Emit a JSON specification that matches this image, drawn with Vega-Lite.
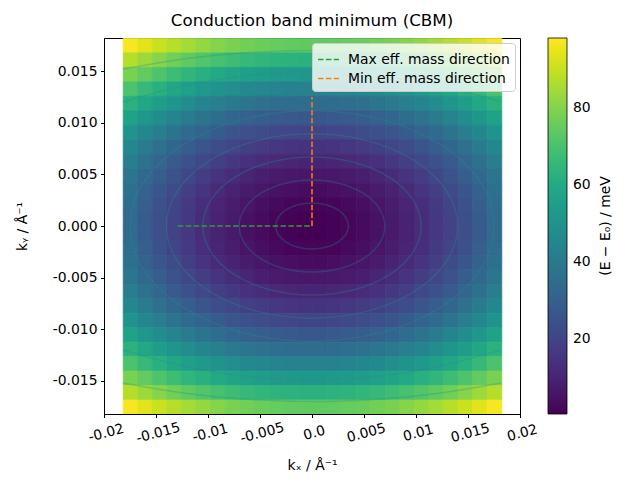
{
"$schema": "https://vega.github.io/schema/vega-lite/v6.json",
"width": 416, "height": 376,
"autosize": {"type": "none"},
"padding": {"left": 104, "top": 38, "right": 120, "bottom": 66},
"title": {"text": "Conduction band minimum (CBM)", "fontSize": 16.7, "fontWeight": "normal", "font": "DejaVu Sans", "color": "black", "offset": 8},
"config": {
 "view": {"stroke": "black", "strokeWidth": 1},
 "font": "DejaVu Sans",
 "axis": {"domainColor": "black", "tickColor": "black", "labelColor": "black", "titleColor": "black", "labelFontSize": 13.9, "titleFontSize": 13.9, "titleFontWeight": "normal", "grid": false, "tickSize": 3.5, "labelPadding": 3.5, "labelFlush": false, "labelOverlap": false, "labelBound": false},
 "legend": {"labelFontSize": 13.9, "titleFontSize": 13.9, "titleFontWeight": "normal", "labelColor": "black", "titleColor": "black"}
},
"resolve": {"scale": {"stroke": "independent"}, "legend": {"stroke": "independent"}},
"layer": [
{
"data": {"values": [
{"x":-0.0182,"y":0.0168,"e":97.3},{"x":-0.0168,"y":0.0168,"e":93.8},{"x":-0.0154,"y":0.0168,"e":90.5},{"x":-0.014,"y":0.0168,"e":87.6},{"x":-0.0126,"y":0.0168,"e":84.9},{"x":-0.0112,"y":0.0168,"e":82.6},{"x":-0.0098,"y":0.0168,"e":80.5},{"x":-0.0084,"y":0.0168,"e":78.7},{"x":-0.007,"y":0.0168,"e":77.2},{"x":-0.0056,"y":0.0168,"e":76.1},{"x":-0.0042,"y":0.0168,"e":75.2},{"x":-0.0028,"y":0.0168,"e":74.6},{"x":-0.0014,"y":0.0168,"e":74.3},{"x":0,"y":0.0168,"e":74.3},{"x":0.0014,"y":0.0168,"e":74.6},{"x":0.0028,"y":0.0168,"e":75.2},{"x":0.0042,"y":0.0168,"e":76.1},{"x":0.0056,"y":0.0168,"e":77.2},{"x":0.007,"y":0.0168,"e":78.7},{"x":0.0084,"y":0.0168,"e":80.5},{"x":0.0098,"y":0.0168,"e":82.6},{"x":0.0112,"y":0.0168,"e":84.9},{"x":0.0126,"y":0.0168,"e":87.6},{"x":0.014,"y":0.0168,"e":90.5},{"x":0.0154,"y":0.0168,"e":93.8},{"x":0.0168,"y":0.0168,"e":97.3},
{"x":-0.0182,"y":0.0154,"e":87.5},{"x":-0.0168,"y":0.0154,"e":83.7},{"x":-0.0154,"y":0.0154,"e":80.3},{"x":-0.014,"y":0.0154,"e":77.1},{"x":-0.0126,"y":0.0154,"e":74.3},{"x":-0.0112,"y":0.0154,"e":71.8},{"x":-0.0098,"y":0.0154,"e":69.6},{"x":-0.0084,"y":0.0154,"e":67.7},{"x":-0.007,"y":0.0154,"e":66.1},{"x":-0.0056,"y":0.0154,"e":64.8},{"x":-0.0042,"y":0.0154,"e":63.9},{"x":-0.0028,"y":0.0154,"e":63.3},{"x":-0.0014,"y":0.0154,"e":62.9},{"x":0,"y":0.0154,"e":62.9},{"x":0.0014,"y":0.0154,"e":63.3},{"x":0.0028,"y":0.0154,"e":63.9},{"x":0.0042,"y":0.0154,"e":64.8},{"x":0.0056,"y":0.0154,"e":66.1},{"x":0.007,"y":0.0154,"e":67.7},{"x":0.0084,"y":0.0154,"e":69.6},{"x":0.0098,"y":0.0154,"e":71.8},{"x":0.0112,"y":0.0154,"e":74.3},{"x":0.0126,"y":0.0154,"e":77.1},{"x":0.014,"y":0.0154,"e":80.3},{"x":0.0154,"y":0.0154,"e":83.7},{"x":0.0168,"y":0.0154,"e":87.5},
{"x":-0.0182,"y":0.014,"e":78.5},{"x":-0.0168,"y":0.014,"e":74.5},{"x":-0.0154,"y":0.014,"e":70.9},{"x":-0.014,"y":0.014,"e":67.5},{"x":-0.0126,"y":0.014,"e":64.5},{"x":-0.0112,"y":0.014,"e":61.9},{"x":-0.0098,"y":0.014,"e":59.5},{"x":-0.0084,"y":0.014,"e":57.5},{"x":-0.007,"y":0.014,"e":55.9},{"x":-0.0056,"y":0.014,"e":54.5},{"x":-0.0042,"y":0.014,"e":53.5},{"x":-0.0028,"y":0.014,"e":52.9},{"x":-0.0014,"y":0.014,"e":52.5},{"x":0,"y":0.014,"e":52.5},{"x":0.0014,"y":0.014,"e":52.9},{"x":0.0028,"y":0.014,"e":53.5},{"x":0.0042,"y":0.014,"e":54.5},{"x":0.0056,"y":0.014,"e":55.9},{"x":0.007,"y":0.014,"e":57.5},{"x":0.0084,"y":0.014,"e":59.5},{"x":0.0098,"y":0.014,"e":61.9},{"x":0.0112,"y":0.014,"e":64.5},{"x":0.0126,"y":0.014,"e":67.5},{"x":0.014,"y":0.014,"e":70.9},{"x":0.0154,"y":0.014,"e":74.5},{"x":0.0168,"y":0.014,"e":78.5},
{"x":-0.0182,"y":0.0126,"e":70.4},{"x":-0.0168,"y":0.0126,"e":66.2},{"x":-0.0154,"y":0.0126,"e":62.3},{"x":-0.014,"y":0.0126,"e":58.8},{"x":-0.0126,"y":0.0126,"e":55.7},{"x":-0.0112,"y":0.0126,"e":52.9},{"x":-0.0098,"y":0.0126,"e":50.4},{"x":-0.0084,"y":0.0126,"e":48.3},{"x":-0.007,"y":0.0126,"e":46.6},{"x":-0.0056,"y":0.0126,"e":45.2},{"x":-0.0042,"y":0.0126,"e":44.1},{"x":-0.0028,"y":0.0126,"e":43.4},{"x":-0.0014,"y":0.0126,"e":43.1},{"x":0,"y":0.0126,"e":43.1},{"x":0.0014,"y":0.0126,"e":43.4},{"x":0.0028,"y":0.0126,"e":44.1},{"x":0.0042,"y":0.0126,"e":45.2},{"x":0.0056,"y":0.0126,"e":46.6},{"x":0.007,"y":0.0126,"e":48.3},{"x":0.0084,"y":0.0126,"e":50.4},{"x":0.0098,"y":0.0126,"e":52.9},{"x":0.0112,"y":0.0126,"e":55.7},{"x":0.0126,"y":0.0126,"e":58.8},{"x":0.014,"y":0.0126,"e":62.3},{"x":0.0154,"y":0.0126,"e":66.2},{"x":0.0168,"y":0.0126,"e":70.4},
{"x":-0.0182,"y":0.0112,"e":63.0},{"x":-0.0168,"y":0.0112,"e":58.7},{"x":-0.0154,"y":0.0112,"e":54.6},{"x":-0.014,"y":0.0112,"e":51.0},{"x":-0.0126,"y":0.0112,"e":47.7},{"x":-0.0112,"y":0.0112,"e":44.8},{"x":-0.0098,"y":0.0112,"e":42.2},{"x":-0.0084,"y":0.0112,"e":40.0},{"x":-0.007,"y":0.0112,"e":38.2},{"x":-0.0056,"y":0.0112,"e":36.7},{"x":-0.0042,"y":0.0112,"e":35.6},{"x":-0.0028,"y":0.0112,"e":34.9},{"x":-0.0014,"y":0.0112,"e":34.5},{"x":0,"y":0.0112,"e":34.5},{"x":0.0014,"y":0.0112,"e":34.9},{"x":0.0028,"y":0.0112,"e":35.6},{"x":0.0042,"y":0.0112,"e":36.7},{"x":0.0056,"y":0.0112,"e":38.2},{"x":0.007,"y":0.0112,"e":40.0},{"x":0.0084,"y":0.0112,"e":42.2},{"x":0.0098,"y":0.0112,"e":44.8},{"x":0.0112,"y":0.0112,"e":47.7},{"x":0.0126,"y":0.0112,"e":51.0},{"x":0.014,"y":0.0112,"e":54.6},{"x":0.0154,"y":0.0112,"e":58.7},{"x":0.0168,"y":0.0112,"e":63.0},
{"x":-0.0182,"y":0.0098,"e":56.5},{"x":-0.0168,"y":0.0098,"e":52.0},{"x":-0.0154,"y":0.0098,"e":47.8},{"x":-0.014,"y":0.0098,"e":44.0},{"x":-0.0126,"y":0.0098,"e":40.6},{"x":-0.0112,"y":0.0098,"e":37.6},{"x":-0.0098,"y":0.0098,"e":34.9},{"x":-0.0084,"y":0.0098,"e":32.7},{"x":-0.007,"y":0.0098,"e":30.8},{"x":-0.0056,"y":0.0098,"e":29.2},{"x":-0.0042,"y":0.0098,"e":28.1},{"x":-0.0028,"y":0.0098,"e":27.4},{"x":-0.0014,"y":0.0098,"e":27.0},{"x":0,"y":0.0098,"e":27.0},{"x":0.0014,"y":0.0098,"e":27.4},{"x":0.0028,"y":0.0098,"e":28.1},{"x":0.0042,"y":0.0098,"e":29.2},{"x":0.0056,"y":0.0098,"e":30.8},{"x":0.007,"y":0.0098,"e":32.7},{"x":0.0084,"y":0.0098,"e":34.9},{"x":0.0098,"y":0.0098,"e":37.6},{"x":0.0112,"y":0.0098,"e":40.6},{"x":0.0126,"y":0.0098,"e":44.0},{"x":0.014,"y":0.0098,"e":47.8},{"x":0.0154,"y":0.0098,"e":52.0},{"x":0.0168,"y":0.0098,"e":56.5},
{"x":-0.0182,"y":0.0084,"e":50.8},{"x":-0.0168,"y":0.0084,"e":46.1},{"x":-0.0154,"y":0.0084,"e":41.8},{"x":-0.014,"y":0.0084,"e":37.9},{"x":-0.0126,"y":0.0084,"e":34.4},{"x":-0.0112,"y":0.0084,"e":31.3},{"x":-0.0098,"y":0.0084,"e":28.6},{"x":-0.0084,"y":0.0084,"e":26.2},{"x":-0.007,"y":0.0084,"e":24.3},{"x":-0.0056,"y":0.0084,"e":22.7},{"x":-0.0042,"y":0.0084,"e":21.5},{"x":-0.0028,"y":0.0084,"e":20.7},{"x":-0.0014,"y":0.0084,"e":20.3},{"x":0,"y":0.0084,"e":20.3},{"x":0.0014,"y":0.0084,"e":20.7},{"x":0.0028,"y":0.0084,"e":21.5},{"x":0.0042,"y":0.0084,"e":22.7},{"x":0.0056,"y":0.0084,"e":24.3},{"x":0.007,"y":0.0084,"e":26.2},{"x":0.0084,"y":0.0084,"e":28.6},{"x":0.0098,"y":0.0084,"e":31.3},{"x":0.0112,"y":0.0084,"e":34.4},{"x":0.0126,"y":0.0084,"e":37.9},{"x":0.014,"y":0.0084,"e":41.8},{"x":0.0154,"y":0.0084,"e":46.1},{"x":0.0168,"y":0.0084,"e":50.8},
{"x":-0.0182,"y":0.007,"e":45.9},{"x":-0.0168,"y":0.007,"e":41.1},{"x":-0.0154,"y":0.007,"e":36.7},{"x":-0.014,"y":0.007,"e":32.7},{"x":-0.0126,"y":0.007,"e":29.1},{"x":-0.0112,"y":0.007,"e":25.9},{"x":-0.0098,"y":0.007,"e":23.1},{"x":-0.0084,"y":0.007,"e":20.7},{"x":-0.007,"y":0.007,"e":18.7},{"x":-0.0056,"y":0.007,"e":17.1},{"x":-0.0042,"y":0.007,"e":15.9},{"x":-0.0028,"y":0.007,"e":15.1},{"x":-0.0014,"y":0.007,"e":14.7},{"x":0,"y":0.007,"e":14.7},{"x":0.0014,"y":0.007,"e":15.1},{"x":0.0028,"y":0.007,"e":15.9},{"x":0.0042,"y":0.007,"e":17.1},{"x":0.0056,"y":0.007,"e":18.7},{"x":0.007,"y":0.007,"e":20.7},{"x":0.0084,"y":0.007,"e":23.1},{"x":0.0098,"y":0.007,"e":25.9},{"x":0.0112,"y":0.007,"e":29.1},{"x":0.0126,"y":0.007,"e":32.7},{"x":0.014,"y":0.007,"e":36.7},{"x":0.0154,"y":0.007,"e":41.1},{"x":0.0168,"y":0.007,"e":45.9},
{"x":-0.0182,"y":0.0056,"e":41.8},{"x":-0.0168,"y":0.0056,"e":36.9},{"x":-0.0154,"y":0.0056,"e":32.4},{"x":-0.014,"y":0.0056,"e":28.3},{"x":-0.0126,"y":0.0056,"e":24.7},{"x":-0.0112,"y":0.0056,"e":21.4},{"x":-0.0098,"y":0.0056,"e":18.5},{"x":-0.0084,"y":0.0056,"e":16.1},{"x":-0.007,"y":0.0056,"e":14.0},{"x":-0.0056,"y":0.0056,"e":12.4},{"x":-0.0042,"y":0.0056,"e":11.2},{"x":-0.0028,"y":0.0056,"e":10.3},{"x":-0.0014,"y":0.0056,"e":9.9},{"x":0,"y":0.0056,"e":9.9},{"x":0.0014,"y":0.0056,"e":10.3},{"x":0.0028,"y":0.0056,"e":11.2},{"x":0.0042,"y":0.0056,"e":12.4},{"x":0.0056,"y":0.0056,"e":14.0},{"x":0.007,"y":0.0056,"e":16.1},{"x":0.0084,"y":0.0056,"e":18.5},{"x":0.0098,"y":0.0056,"e":21.4},{"x":0.0112,"y":0.0056,"e":24.7},{"x":0.0126,"y":0.0056,"e":28.3},{"x":0.014,"y":0.0056,"e":32.4},{"x":0.0154,"y":0.0056,"e":36.9},{"x":0.0168,"y":0.0056,"e":41.8},
{"x":-0.0182,"y":0.0042,"e":38.6},{"x":-0.0168,"y":0.0042,"e":33.6},{"x":-0.0154,"y":0.0042,"e":29.0},{"x":-0.014,"y":0.0042,"e":24.9},{"x":-0.0126,"y":0.0042,"e":21.1},{"x":-0.0112,"y":0.0042,"e":17.8},{"x":-0.0098,"y":0.0042,"e":14.9},{"x":-0.0084,"y":0.0042,"e":12.4},{"x":-0.007,"y":0.0042,"e":10.3},{"x":-0.0056,"y":0.0042,"e":8.6},{"x":-0.0042,"y":0.0042,"e":7.4},{"x":-0.0028,"y":0.0042,"e":6.6},{"x":-0.0014,"y":0.0042,"e":6.2},{"x":0,"y":0.0042,"e":6.2},{"x":0.0014,"y":0.0042,"e":6.6},{"x":0.0028,"y":0.0042,"e":7.4},{"x":0.0042,"y":0.0042,"e":8.6},{"x":0.0056,"y":0.0042,"e":10.3},{"x":0.007,"y":0.0042,"e":12.4},{"x":0.0084,"y":0.0042,"e":14.9},{"x":0.0098,"y":0.0042,"e":17.8},{"x":0.0112,"y":0.0042,"e":21.1},{"x":0.0126,"y":0.0042,"e":24.9},{"x":0.014,"y":0.0042,"e":29.0},{"x":0.0154,"y":0.0042,"e":33.6},{"x":0.0168,"y":0.0042,"e":38.6},
{"x":-0.0182,"y":0.0028,"e":36.1},{"x":-0.0168,"y":0.0028,"e":31.1},{"x":-0.0154,"y":0.0028,"e":26.5},{"x":-0.014,"y":0.0028,"e":22.2},{"x":-0.0126,"y":0.0028,"e":18.5},{"x":-0.0112,"y":0.0028,"e":15.1},{"x":-0.0098,"y":0.0028,"e":12.1},{"x":-0.0084,"y":0.0028,"e":9.6},{"x":-0.007,"y":0.0028,"e":7.5},{"x":-0.0056,"y":0.0028,"e":5.8},{"x":-0.0042,"y":0.0028,"e":4.6},{"x":-0.0028,"y":0.0028,"e":3.7},{"x":-0.0014,"y":0.0028,"e":3.3},{"x":0,"y":0.0028,"e":3.3},{"x":0.0014,"y":0.0028,"e":3.7},{"x":0.0028,"y":0.0028,"e":4.6},{"x":0.0042,"y":0.0028,"e":5.8},{"x":0.0056,"y":0.0028,"e":7.5},{"x":0.007,"y":0.0028,"e":9.6},{"x":0.0084,"y":0.0028,"e":12.1},{"x":0.0098,"y":0.0028,"e":15.1},{"x":0.0112,"y":0.0028,"e":18.5},{"x":0.0126,"y":0.0028,"e":22.2},{"x":0.014,"y":0.0028,"e":26.5},{"x":0.0154,"y":0.0028,"e":31.1},{"x":0.0168,"y":0.0028,"e":36.1},
{"x":-0.0182,"y":0.0014,"e":34.5},{"x":-0.0168,"y":0.0014,"e":29.4},{"x":-0.0154,"y":0.0014,"e":24.7},{"x":-0.014,"y":0.0014,"e":20.5},{"x":-0.0126,"y":0.0014,"e":16.7},{"x":-0.0112,"y":0.0014,"e":13.3},{"x":-0.0098,"y":0.0014,"e":10.3},{"x":-0.0084,"y":0.0014,"e":7.8},{"x":-0.007,"y":0.0014,"e":5.7},{"x":-0.0056,"y":0.0014,"e":4.0},{"x":-0.0042,"y":0.0014,"e":2.7},{"x":-0.0028,"y":0.0014,"e":1.8},{"x":-0.0014,"y":0.0014,"e":1.4},{"x":0,"y":0.0014,"e":1.4},{"x":0.0014,"y":0.0014,"e":1.8},{"x":0.0028,"y":0.0014,"e":2.7},{"x":0.0042,"y":0.0014,"e":4.0},{"x":0.0056,"y":0.0014,"e":5.7},{"x":0.007,"y":0.0014,"e":7.8},{"x":0.0084,"y":0.0014,"e":10.3},{"x":0.0098,"y":0.0014,"e":13.3},{"x":0.0112,"y":0.0014,"e":16.7},{"x":0.0126,"y":0.0014,"e":20.5},{"x":0.014,"y":0.0014,"e":24.7},{"x":0.0154,"y":0.0014,"e":29.4},{"x":0.0168,"y":0.0014,"e":34.5},
{"x":-0.0182,"y":0,"e":33.7},{"x":-0.0168,"y":0,"e":28.6},{"x":-0.0154,"y":0,"e":23.9},{"x":-0.014,"y":0,"e":19.6},{"x":-0.0126,"y":0,"e":15.8},{"x":-0.0112,"y":0,"e":12.4},{"x":-0.0098,"y":0,"e":9.4},{"x":-0.0084,"y":0,"e":6.9},{"x":-0.007,"y":0,"e":4.7},{"x":-0.0056,"y":0,"e":3.0},{"x":-0.0042,"y":0,"e":1.7},{"x":-0.0028,"y":0,"e":0.9},{"x":-0.0014,"y":0,"e":0.5},{"x":0,"y":0,"e":0.5},{"x":0.0014,"y":0,"e":0.9},{"x":0.0028,"y":0,"e":1.7},{"x":0.0042,"y":0,"e":3.0},{"x":0.0056,"y":0,"e":4.7},{"x":0.007,"y":0,"e":6.9},{"x":0.0084,"y":0,"e":9.4},{"x":0.0098,"y":0,"e":12.4},{"x":0.0112,"y":0,"e":15.8},{"x":0.0126,"y":0,"e":19.6},{"x":0.014,"y":0,"e":23.9},{"x":0.0154,"y":0,"e":28.6},{"x":0.0168,"y":0,"e":33.7},
{"x":-0.0182,"y":-0.0014,"e":33.7},{"x":-0.0168,"y":-0.0014,"e":28.6},{"x":-0.0154,"y":-0.0014,"e":23.9},{"x":-0.014,"y":-0.0014,"e":19.6},{"x":-0.0126,"y":-0.0014,"e":15.8},{"x":-0.0112,"y":-0.0014,"e":12.4},{"x":-0.0098,"y":-0.0014,"e":9.4},{"x":-0.0084,"y":-0.0014,"e":6.9},{"x":-0.007,"y":-0.0014,"e":4.7},{"x":-0.0056,"y":-0.0014,"e":3.0},{"x":-0.0042,"y":-0.0014,"e":1.7},{"x":-0.0028,"y":-0.0014,"e":0.9},{"x":-0.0014,"y":-0.0014,"e":0.5},{"x":0,"y":-0.0014,"e":0.5},{"x":0.0014,"y":-0.0014,"e":0.9},{"x":0.0028,"y":-0.0014,"e":1.7},{"x":0.0042,"y":-0.0014,"e":3.0},{"x":0.0056,"y":-0.0014,"e":4.7},{"x":0.007,"y":-0.0014,"e":6.9},{"x":0.0084,"y":-0.0014,"e":9.4},{"x":0.0098,"y":-0.0014,"e":12.4},{"x":0.0112,"y":-0.0014,"e":15.8},{"x":0.0126,"y":-0.0014,"e":19.6},{"x":0.014,"y":-0.0014,"e":23.9},{"x":0.0154,"y":-0.0014,"e":28.6},{"x":0.0168,"y":-0.0014,"e":33.7},
{"x":-0.0182,"y":-0.0028,"e":34.5},{"x":-0.0168,"y":-0.0028,"e":29.4},{"x":-0.0154,"y":-0.0028,"e":24.7},{"x":-0.014,"y":-0.0028,"e":20.5},{"x":-0.0126,"y":-0.0028,"e":16.7},{"x":-0.0112,"y":-0.0028,"e":13.3},{"x":-0.0098,"y":-0.0028,"e":10.3},{"x":-0.0084,"y":-0.0028,"e":7.8},{"x":-0.007,"y":-0.0028,"e":5.7},{"x":-0.0056,"y":-0.0028,"e":4.0},{"x":-0.0042,"y":-0.0028,"e":2.7},{"x":-0.0028,"y":-0.0028,"e":1.8},{"x":-0.0014,"y":-0.0028,"e":1.4},{"x":0,"y":-0.0028,"e":1.4},{"x":0.0014,"y":-0.0028,"e":1.8},{"x":0.0028,"y":-0.0028,"e":2.7},{"x":0.0042,"y":-0.0028,"e":4.0},{"x":0.0056,"y":-0.0028,"e":5.7},{"x":0.007,"y":-0.0028,"e":7.8},{"x":0.0084,"y":-0.0028,"e":10.3},{"x":0.0098,"y":-0.0028,"e":13.3},{"x":0.0112,"y":-0.0028,"e":16.7},{"x":0.0126,"y":-0.0028,"e":20.5},{"x":0.014,"y":-0.0028,"e":24.7},{"x":0.0154,"y":-0.0028,"e":29.4},{"x":0.0168,"y":-0.0028,"e":34.5},
{"x":-0.0182,"y":-0.0042,"e":36.1},{"x":-0.0168,"y":-0.0042,"e":31.1},{"x":-0.0154,"y":-0.0042,"e":26.5},{"x":-0.014,"y":-0.0042,"e":22.2},{"x":-0.0126,"y":-0.0042,"e":18.5},{"x":-0.0112,"y":-0.0042,"e":15.1},{"x":-0.0098,"y":-0.0042,"e":12.1},{"x":-0.0084,"y":-0.0042,"e":9.6},{"x":-0.007,"y":-0.0042,"e":7.5},{"x":-0.0056,"y":-0.0042,"e":5.8},{"x":-0.0042,"y":-0.0042,"e":4.6},{"x":-0.0028,"y":-0.0042,"e":3.7},{"x":-0.0014,"y":-0.0042,"e":3.3},{"x":0,"y":-0.0042,"e":3.3},{"x":0.0014,"y":-0.0042,"e":3.7},{"x":0.0028,"y":-0.0042,"e":4.6},{"x":0.0042,"y":-0.0042,"e":5.8},{"x":0.0056,"y":-0.0042,"e":7.5},{"x":0.007,"y":-0.0042,"e":9.6},{"x":0.0084,"y":-0.0042,"e":12.1},{"x":0.0098,"y":-0.0042,"e":15.1},{"x":0.0112,"y":-0.0042,"e":18.5},{"x":0.0126,"y":-0.0042,"e":22.2},{"x":0.014,"y":-0.0042,"e":26.5},{"x":0.0154,"y":-0.0042,"e":31.1},{"x":0.0168,"y":-0.0042,"e":36.1},
{"x":-0.0182,"y":-0.0056,"e":38.6},{"x":-0.0168,"y":-0.0056,"e":33.6},{"x":-0.0154,"y":-0.0056,"e":29.0},{"x":-0.014,"y":-0.0056,"e":24.9},{"x":-0.0126,"y":-0.0056,"e":21.1},{"x":-0.0112,"y":-0.0056,"e":17.8},{"x":-0.0098,"y":-0.0056,"e":14.9},{"x":-0.0084,"y":-0.0056,"e":12.4},{"x":-0.007,"y":-0.0056,"e":10.3},{"x":-0.0056,"y":-0.0056,"e":8.6},{"x":-0.0042,"y":-0.0056,"e":7.4},{"x":-0.0028,"y":-0.0056,"e":6.6},{"x":-0.0014,"y":-0.0056,"e":6.2},{"x":0,"y":-0.0056,"e":6.2},{"x":0.0014,"y":-0.0056,"e":6.6},{"x":0.0028,"y":-0.0056,"e":7.4},{"x":0.0042,"y":-0.0056,"e":8.6},{"x":0.0056,"y":-0.0056,"e":10.3},{"x":0.007,"y":-0.0056,"e":12.4},{"x":0.0084,"y":-0.0056,"e":14.9},{"x":0.0098,"y":-0.0056,"e":17.8},{"x":0.0112,"y":-0.0056,"e":21.1},{"x":0.0126,"y":-0.0056,"e":24.9},{"x":0.014,"y":-0.0056,"e":29.0},{"x":0.0154,"y":-0.0056,"e":33.6},{"x":0.0168,"y":-0.0056,"e":38.6},
{"x":-0.0182,"y":-0.007,"e":41.8},{"x":-0.0168,"y":-0.007,"e":36.9},{"x":-0.0154,"y":-0.007,"e":32.4},{"x":-0.014,"y":-0.007,"e":28.3},{"x":-0.0126,"y":-0.007,"e":24.7},{"x":-0.0112,"y":-0.007,"e":21.4},{"x":-0.0098,"y":-0.007,"e":18.5},{"x":-0.0084,"y":-0.007,"e":16.1},{"x":-0.007,"y":-0.007,"e":14.0},{"x":-0.0056,"y":-0.007,"e":12.4},{"x":-0.0042,"y":-0.007,"e":11.2},{"x":-0.0028,"y":-0.007,"e":10.3},{"x":-0.0014,"y":-0.007,"e":9.9},{"x":0,"y":-0.007,"e":9.9},{"x":0.0014,"y":-0.007,"e":10.3},{"x":0.0028,"y":-0.007,"e":11.2},{"x":0.0042,"y":-0.007,"e":12.4},{"x":0.0056,"y":-0.007,"e":14.0},{"x":0.007,"y":-0.007,"e":16.1},{"x":0.0084,"y":-0.007,"e":18.5},{"x":0.0098,"y":-0.007,"e":21.4},{"x":0.0112,"y":-0.007,"e":24.7},{"x":0.0126,"y":-0.007,"e":28.3},{"x":0.014,"y":-0.007,"e":32.4},{"x":0.0154,"y":-0.007,"e":36.9},{"x":0.0168,"y":-0.007,"e":41.8},
{"x":-0.0182,"y":-0.0084,"e":45.9},{"x":-0.0168,"y":-0.0084,"e":41.1},{"x":-0.0154,"y":-0.0084,"e":36.7},{"x":-0.014,"y":-0.0084,"e":32.7},{"x":-0.0126,"y":-0.0084,"e":29.1},{"x":-0.0112,"y":-0.0084,"e":25.9},{"x":-0.0098,"y":-0.0084,"e":23.1},{"x":-0.0084,"y":-0.0084,"e":20.7},{"x":-0.007,"y":-0.0084,"e":18.7},{"x":-0.0056,"y":-0.0084,"e":17.1},{"x":-0.0042,"y":-0.0084,"e":15.9},{"x":-0.0028,"y":-0.0084,"e":15.1},{"x":-0.0014,"y":-0.0084,"e":14.7},{"x":0,"y":-0.0084,"e":14.7},{"x":0.0014,"y":-0.0084,"e":15.1},{"x":0.0028,"y":-0.0084,"e":15.9},{"x":0.0042,"y":-0.0084,"e":17.1},{"x":0.0056,"y":-0.0084,"e":18.7},{"x":0.007,"y":-0.0084,"e":20.7},{"x":0.0084,"y":-0.0084,"e":23.1},{"x":0.0098,"y":-0.0084,"e":25.9},{"x":0.0112,"y":-0.0084,"e":29.1},{"x":0.0126,"y":-0.0084,"e":32.7},{"x":0.014,"y":-0.0084,"e":36.7},{"x":0.0154,"y":-0.0084,"e":41.1},{"x":0.0168,"y":-0.0084,"e":45.9},
{"x":-0.0182,"y":-0.0098,"e":50.8},{"x":-0.0168,"y":-0.0098,"e":46.1},{"x":-0.0154,"y":-0.0098,"e":41.8},{"x":-0.014,"y":-0.0098,"e":37.9},{"x":-0.0126,"y":-0.0098,"e":34.4},{"x":-0.0112,"y":-0.0098,"e":31.3},{"x":-0.0098,"y":-0.0098,"e":28.6},{"x":-0.0084,"y":-0.0098,"e":26.2},{"x":-0.007,"y":-0.0098,"e":24.3},{"x":-0.0056,"y":-0.0098,"e":22.7},{"x":-0.0042,"y":-0.0098,"e":21.5},{"x":-0.0028,"y":-0.0098,"e":20.7},{"x":-0.0014,"y":-0.0098,"e":20.3},{"x":0,"y":-0.0098,"e":20.3},{"x":0.0014,"y":-0.0098,"e":20.7},{"x":0.0028,"y":-0.0098,"e":21.5},{"x":0.0042,"y":-0.0098,"e":22.7},{"x":0.0056,"y":-0.0098,"e":24.3},{"x":0.007,"y":-0.0098,"e":26.2},{"x":0.0084,"y":-0.0098,"e":28.6},{"x":0.0098,"y":-0.0098,"e":31.3},{"x":0.0112,"y":-0.0098,"e":34.4},{"x":0.0126,"y":-0.0098,"e":37.9},{"x":0.014,"y":-0.0098,"e":41.8},{"x":0.0154,"y":-0.0098,"e":46.1},{"x":0.0168,"y":-0.0098,"e":50.8},
{"x":-0.0182,"y":-0.0112,"e":56.5},{"x":-0.0168,"y":-0.0112,"e":52.0},{"x":-0.0154,"y":-0.0112,"e":47.8},{"x":-0.014,"y":-0.0112,"e":44.0},{"x":-0.0126,"y":-0.0112,"e":40.6},{"x":-0.0112,"y":-0.0112,"e":37.6},{"x":-0.0098,"y":-0.0112,"e":34.9},{"x":-0.0084,"y":-0.0112,"e":32.7},{"x":-0.007,"y":-0.0112,"e":30.8},{"x":-0.0056,"y":-0.0112,"e":29.2},{"x":-0.0042,"y":-0.0112,"e":28.1},{"x":-0.0028,"y":-0.0112,"e":27.4},{"x":-0.0014,"y":-0.0112,"e":27.0},{"x":0,"y":-0.0112,"e":27.0},{"x":0.0014,"y":-0.0112,"e":27.4},{"x":0.0028,"y":-0.0112,"e":28.1},{"x":0.0042,"y":-0.0112,"e":29.2},{"x":0.0056,"y":-0.0112,"e":30.8},{"x":0.007,"y":-0.0112,"e":32.7},{"x":0.0084,"y":-0.0112,"e":34.9},{"x":0.0098,"y":-0.0112,"e":37.6},{"x":0.0112,"y":-0.0112,"e":40.6},{"x":0.0126,"y":-0.0112,"e":44.0},{"x":0.014,"y":-0.0112,"e":47.8},{"x":0.0154,"y":-0.0112,"e":52.0},{"x":0.0168,"y":-0.0112,"e":56.5},
{"x":-0.0182,"y":-0.0126,"e":63.0},{"x":-0.0168,"y":-0.0126,"e":58.7},{"x":-0.0154,"y":-0.0126,"e":54.6},{"x":-0.014,"y":-0.0126,"e":51.0},{"x":-0.0126,"y":-0.0126,"e":47.7},{"x":-0.0112,"y":-0.0126,"e":44.8},{"x":-0.0098,"y":-0.0126,"e":42.2},{"x":-0.0084,"y":-0.0126,"e":40.0},{"x":-0.007,"y":-0.0126,"e":38.2},{"x":-0.0056,"y":-0.0126,"e":36.7},{"x":-0.0042,"y":-0.0126,"e":35.6},{"x":-0.0028,"y":-0.0126,"e":34.9},{"x":-0.0014,"y":-0.0126,"e":34.5},{"x":0,"y":-0.0126,"e":34.5},{"x":0.0014,"y":-0.0126,"e":34.9},{"x":0.0028,"y":-0.0126,"e":35.6},{"x":0.0042,"y":-0.0126,"e":36.7},{"x":0.0056,"y":-0.0126,"e":38.2},{"x":0.007,"y":-0.0126,"e":40.0},{"x":0.0084,"y":-0.0126,"e":42.2},{"x":0.0098,"y":-0.0126,"e":44.8},{"x":0.0112,"y":-0.0126,"e":47.7},{"x":0.0126,"y":-0.0126,"e":51.0},{"x":0.014,"y":-0.0126,"e":54.6},{"x":0.0154,"y":-0.0126,"e":58.7},{"x":0.0168,"y":-0.0126,"e":63.0},
{"x":-0.0182,"y":-0.014,"e":70.4},{"x":-0.0168,"y":-0.014,"e":66.2},{"x":-0.0154,"y":-0.014,"e":62.3},{"x":-0.014,"y":-0.014,"e":58.8},{"x":-0.0126,"y":-0.014,"e":55.7},{"x":-0.0112,"y":-0.014,"e":52.9},{"x":-0.0098,"y":-0.014,"e":50.4},{"x":-0.0084,"y":-0.014,"e":48.3},{"x":-0.007,"y":-0.014,"e":46.6},{"x":-0.0056,"y":-0.014,"e":45.2},{"x":-0.0042,"y":-0.014,"e":44.1},{"x":-0.0028,"y":-0.014,"e":43.4},{"x":-0.0014,"y":-0.014,"e":43.1},{"x":0,"y":-0.014,"e":43.1},{"x":0.0014,"y":-0.014,"e":43.4},{"x":0.0028,"y":-0.014,"e":44.1},{"x":0.0042,"y":-0.014,"e":45.2},{"x":0.0056,"y":-0.014,"e":46.6},{"x":0.007,"y":-0.014,"e":48.3},{"x":0.0084,"y":-0.014,"e":50.4},{"x":0.0098,"y":-0.014,"e":52.9},{"x":0.0112,"y":-0.014,"e":55.7},{"x":0.0126,"y":-0.014,"e":58.8},{"x":0.014,"y":-0.014,"e":62.3},{"x":0.0154,"y":-0.014,"e":66.2},{"x":0.0168,"y":-0.014,"e":70.4},
{"x":-0.0182,"y":-0.0154,"e":78.5},{"x":-0.0168,"y":-0.0154,"e":74.5},{"x":-0.0154,"y":-0.0154,"e":70.9},{"x":-0.014,"y":-0.0154,"e":67.5},{"x":-0.0126,"y":-0.0154,"e":64.5},{"x":-0.0112,"y":-0.0154,"e":61.9},{"x":-0.0098,"y":-0.0154,"e":59.5},{"x":-0.0084,"y":-0.0154,"e":57.5},{"x":-0.007,"y":-0.0154,"e":55.9},{"x":-0.0056,"y":-0.0154,"e":54.5},{"x":-0.0042,"y":-0.0154,"e":53.5},{"x":-0.0028,"y":-0.0154,"e":52.9},{"x":-0.0014,"y":-0.0154,"e":52.5},{"x":0,"y":-0.0154,"e":52.5},{"x":0.0014,"y":-0.0154,"e":52.9},{"x":0.0028,"y":-0.0154,"e":53.5},{"x":0.0042,"y":-0.0154,"e":54.5},{"x":0.0056,"y":-0.0154,"e":55.9},{"x":0.007,"y":-0.0154,"e":57.5},{"x":0.0084,"y":-0.0154,"e":59.5},{"x":0.0098,"y":-0.0154,"e":61.9},{"x":0.0112,"y":-0.0154,"e":64.5},{"x":0.0126,"y":-0.0154,"e":67.5},{"x":0.014,"y":-0.0154,"e":70.9},{"x":0.0154,"y":-0.0154,"e":74.5},{"x":0.0168,"y":-0.0154,"e":78.5},
{"x":-0.0182,"y":-0.0168,"e":87.5},{"x":-0.0168,"y":-0.0168,"e":83.7},{"x":-0.0154,"y":-0.0168,"e":80.3},{"x":-0.014,"y":-0.0168,"e":77.1},{"x":-0.0126,"y":-0.0168,"e":74.3},{"x":-0.0112,"y":-0.0168,"e":71.8},{"x":-0.0098,"y":-0.0168,"e":69.6},{"x":-0.0084,"y":-0.0168,"e":67.7},{"x":-0.007,"y":-0.0168,"e":66.1},{"x":-0.0056,"y":-0.0168,"e":64.8},{"x":-0.0042,"y":-0.0168,"e":63.9},{"x":-0.0028,"y":-0.0168,"e":63.3},{"x":-0.0014,"y":-0.0168,"e":62.9},{"x":0,"y":-0.0168,"e":62.9},{"x":0.0014,"y":-0.0168,"e":63.3},{"x":0.0028,"y":-0.0168,"e":63.9},{"x":0.0042,"y":-0.0168,"e":64.8},{"x":0.0056,"y":-0.0168,"e":66.1},{"x":0.007,"y":-0.0168,"e":67.7},{"x":0.0084,"y":-0.0168,"e":69.6},{"x":0.0098,"y":-0.0168,"e":71.8},{"x":0.0112,"y":-0.0168,"e":74.3},{"x":0.0126,"y":-0.0168,"e":77.1},{"x":0.014,"y":-0.0168,"e":80.3},{"x":0.0154,"y":-0.0168,"e":83.7},{"x":0.0168,"y":-0.0168,"e":87.5},
{"x":-0.0182,"y":-0.0182,"e":97.3},{"x":-0.0168,"y":-0.0182,"e":93.8},{"x":-0.0154,"y":-0.0182,"e":90.5},{"x":-0.014,"y":-0.0182,"e":87.6},{"x":-0.0126,"y":-0.0182,"e":84.9},{"x":-0.0112,"y":-0.0182,"e":82.6},{"x":-0.0098,"y":-0.0182,"e":80.5},{"x":-0.0084,"y":-0.0182,"e":78.7},{"x":-0.007,"y":-0.0182,"e":77.2},{"x":-0.0056,"y":-0.0182,"e":76.1},{"x":-0.0042,"y":-0.0182,"e":75.2},{"x":-0.0028,"y":-0.0182,"e":74.6},{"x":-0.0014,"y":-0.0182,"e":74.3},{"x":0,"y":-0.0182,"e":74.3},{"x":0.0014,"y":-0.0182,"e":74.6},{"x":0.0028,"y":-0.0182,"e":75.2},{"x":0.0042,"y":-0.0182,"e":76.1},{"x":0.0056,"y":-0.0182,"e":77.2},{"x":0.007,"y":-0.0182,"e":78.7},{"x":0.0084,"y":-0.0182,"e":80.5},{"x":0.0098,"y":-0.0182,"e":82.6},{"x":0.0112,"y":-0.0182,"e":84.9},{"x":0.0126,"y":-0.0182,"e":87.6},{"x":0.014,"y":-0.0182,"e":90.5},{"x":0.0154,"y":-0.0182,"e":93.8},{"x":0.0168,"y":-0.0182,"e":97.3}
]},
"mark": {"type": "rect", "binSpacing": 0, "strokeWidth": 0.8},
"encoding": {
 "x": {"field": "x", "type": "quantitative", "bin": {"binned": true, "step": 0.0014},
  "scale": {"domain": [-0.02, 0.02], "nice": false, "zero": false},
  "axis": {"title": "kₓ / Å⁻¹", "values": [-0.02, -0.015, -0.01, -0.005, 0, 0.005, 0.01, 0.015, 0.02], "labelAngle": -15, "labelAlign": "center", "labelBaseline": "top", "labelPadding": 8.5, "titlePadding": 13,
   "labelExpr": "datum.value == 0 ? '0.0' : replace(format(datum.value, '~g'), '\u2212', '-')"}},
 "y": {"field": "y", "type": "quantitative", "bin": {"binned": true, "step": 0.0014},
  "scale": {"domain": [-0.0182, 0.0182], "nice": false, "zero": false},
  "axis": {"title": "kᵧ / Å⁻¹", "values": [-0.015, -0.01, -0.005, 0, 0.005, 0.01, 0.015], "titlePadding": 23,
   "labelExpr": "replace(format(datum.value, '.3f'), '\u2212', '-')"}},
 "fill": {"field": "e", "type": "quantitative",
  "scale": {"scheme": "viridis", "domain": [0.5, 98.2]},
  "legend": {"orient": "right", "offset": 28, "title": "(E − E₀) / meV", "titleOrient": "right", "gradientLength": 376, "gradientThickness": 19, "gradientStrokeColor": "black", "gradientStrokeWidth": 0.8, "values": [20, 40, 60, 80], "labelOffset": 6,
   "encode": {"title": {"update": {"angle": {"value": 270}, "dy": {"value": 17}}}}}},
 "stroke": {"field": "e", "type": "quantitative", "scale": {"scheme": "viridis", "domain": [0.5, 98.2]}, "legend": null}
}
},
{
"data": {"values": [
{"c":1,"o":0,"x":0.0035,"y":0},{"c":1,"o":1,"x":0.00323,"y":0.00085},{"c":1,"o":2,"x":0.00247,"y":0.00158},{"c":1,"o":3,"x":0.00134,"y":0.00206},{"c":1,"o":4,"x":0,"y":0.00223},{"c":1,"o":5,"x":-0.00134,"y":0.00206},{"c":1,"o":6,"x":-0.00247,"y":0.00158},{"c":1,"o":7,"x":-0.00323,"y":0.00085},{"c":1,"o":8,"x":-0.0035,"y":0},{"c":1,"o":9,"x":-0.00323,"y":-0.00085},{"c":1,"o":10,"x":-0.00247,"y":-0.00158},{"c":1,"o":11,"x":-0.00134,"y":-0.00206},{"c":1,"o":12,"x":0,"y":-0.00223},{"c":1,"o":13,"x":0.00134,"y":-0.00206},{"c":1,"o":14,"x":0.00247,"y":-0.00158},{"c":1,"o":15,"x":0.00323,"y":-0.00085},
{"c":2,"o":0,"x":0.007,"y":0},{"c":2,"o":1,"x":0.00647,"y":0.00171},{"c":2,"o":2,"x":0.00495,"y":0.00315},{"c":2,"o":3,"x":0.00268,"y":0.00412},{"c":2,"o":4,"x":0,"y":0.00446},{"c":2,"o":5,"x":-0.00268,"y":0.00412},{"c":2,"o":6,"x":-0.00495,"y":0.00315},{"c":2,"o":7,"x":-0.00647,"y":0.00171},{"c":2,"o":8,"x":-0.007,"y":0},{"c":2,"o":9,"x":-0.00647,"y":-0.00171},{"c":2,"o":10,"x":-0.00495,"y":-0.00315},{"c":2,"o":11,"x":-0.00268,"y":-0.00412},{"c":2,"o":12,"x":0,"y":-0.00446},{"c":2,"o":13,"x":0.00268,"y":-0.00412},{"c":2,"o":14,"x":0.00495,"y":-0.00315},{"c":2,"o":15,"x":0.00647,"y":-0.00171},
{"c":3,"o":0,"x":0.0105,"y":0},{"c":3,"o":1,"x":0.0097,"y":0.00256},{"c":3,"o":2,"x":0.00742,"y":0.00473},{"c":3,"o":3,"x":0.00402,"y":0.00618},{"c":3,"o":4,"x":0,"y":0.00669},{"c":3,"o":5,"x":-0.00402,"y":0.00618},{"c":3,"o":6,"x":-0.00742,"y":0.00473},{"c":3,"o":7,"x":-0.0097,"y":0.00256},{"c":3,"o":8,"x":-0.0105,"y":0},{"c":3,"o":9,"x":-0.0097,"y":-0.00256},{"c":3,"o":10,"x":-0.00742,"y":-0.00473},{"c":3,"o":11,"x":-0.00402,"y":-0.00618},{"c":3,"o":12,"x":0,"y":-0.00669},{"c":3,"o":13,"x":0.00402,"y":-0.00618},{"c":3,"o":14,"x":0.00742,"y":-0.00473},{"c":3,"o":15,"x":0.0097,"y":-0.00256},
{"c":4,"o":0,"x":0.014,"y":0},{"c":4,"o":1,"x":0.01293,"y":0.00341},{"c":4,"o":2,"x":0.0099,"y":0.00631},{"c":4,"o":3,"x":0.00536,"y":0.00824},{"c":4,"o":4,"x":0,"y":0.00892},{"c":4,"o":5,"x":-0.00536,"y":0.00824},{"c":4,"o":6,"x":-0.0099,"y":0.00631},{"c":4,"o":7,"x":-0.01293,"y":0.00341},{"c":4,"o":8,"x":-0.014,"y":0},{"c":4,"o":9,"x":-0.01293,"y":-0.00341},{"c":4,"o":10,"x":-0.0099,"y":-0.00631},{"c":4,"o":11,"x":-0.00536,"y":-0.00824},{"c":4,"o":12,"x":0,"y":-0.00892},{"c":4,"o":13,"x":0.00536,"y":-0.00824},{"c":4,"o":14,"x":0.0099,"y":-0.00631},{"c":4,"o":15,"x":0.01293,"y":-0.00341},
{"c":5,"o":0,"x":0.0175,"y":0},{"c":5,"o":1,"x":0.01617,"y":0.00427},{"c":5,"o":2,"x":0.01237,"y":0.00788},{"c":5,"o":3,"x":0.0067,"y":0.0103},{"c":5,"o":4,"x":0,"y":0.01115},{"c":5,"o":5,"x":-0.0067,"y":0.0103},{"c":5,"o":6,"x":-0.01237,"y":0.00788},{"c":5,"o":7,"x":-0.01617,"y":0.00427},{"c":5,"o":8,"x":-0.0175,"y":0},{"c":5,"o":9,"x":-0.01617,"y":-0.00427},{"c":5,"o":10,"x":-0.01237,"y":-0.00788},{"c":5,"o":11,"x":-0.0067,"y":-0.0103},{"c":5,"o":12,"x":0,"y":-0.01115},{"c":5,"o":13,"x":0.0067,"y":-0.0103},{"c":5,"o":14,"x":0.01237,"y":-0.00788},{"c":5,"o":15,"x":0.01617,"y":-0.00427}
]},
"mark": {"type": "line", "interpolate": "cardinal-closed", "stroke": "#2a8c8c", "strokeWidth": 1.5, "opacity": 0.3},
"encoding": {
 "x": {"field": "x", "type": "quantitative", "scale": {"domain": [-0.02, 0.02], "nice": false, "zero": false}},
 "y": {"field": "y", "type": "quantitative", "scale": {"domain": [-0.0182, 0.0182], "nice": false, "zero": false}},
 "detail": {"field": "c", "type": "nominal"},
 "order": {"field": "o", "type": "quantitative"}
}
},
{
"data": {"values": [
{"c":"p1","x":-0.0182,"y":0.012},{"c":"p1","x":-0.012,"y":0.01364},{"c":"p1","x":-0.006,"y":0.01458},{"c":"p1","x":0,"y":0.0149},{"c":"p1","x":0.006,"y":0.01458},{"c":"p1","x":0.012,"y":0.01364},{"c":"p1","x":0.0182,"y":0.012},
{"c":"p2","x":-0.0182,"y":-0.012},{"c":"p2","x":-0.012,"y":-0.01364},{"c":"p2","x":-0.006,"y":-0.01458},{"c":"p2","x":0,"y":-0.0149},{"c":"p2","x":0.006,"y":-0.01458},{"c":"p2","x":0.012,"y":-0.01364},{"c":"p2","x":0.0182,"y":-0.012},
{"c":"q1","x":-0.0182,"y":0.0152},{"c":"q1","x":-0.012,"y":0.01622},{"c":"q1","x":-0.006,"y":0.0168},{"c":"q1","x":0,"y":0.017},{"c":"q1","x":0.006,"y":0.0168},{"c":"q1","x":0.012,"y":0.01622},{"c":"q1","x":0.0182,"y":0.0152},
{"c":"q2","x":-0.0182,"y":-0.0152},{"c":"q2","x":-0.012,"y":-0.01622},{"c":"q2","x":-0.006,"y":-0.0168},{"c":"q2","x":0,"y":-0.017},{"c":"q2","x":0.006,"y":-0.0168},{"c":"q2","x":0.012,"y":-0.01622},{"c":"q2","x":0.0182,"y":-0.0152}
]},
"mark": {"type": "line", "interpolate": "natural", "stroke": "#2a8c8c", "strokeWidth": 1.5, "opacity": 0.3},
"encoding": {
 "x": {"field": "x", "type": "quantitative", "scale": {"domain": [-0.02, 0.02], "nice": false, "zero": false}},
 "y": {"field": "y", "type": "quantitative", "scale": {"domain": [-0.0182, 0.0182], "nice": false, "zero": false}},
 "detail": {"field": "c", "type": "nominal"}
}
},
{
"data": {"values": [
{"s":"Max eff. mass direction","o":0,"x":-0.0129,"y":0},{"s":"Max eff. mass direction","o":1,"x":0,"y":0},
{"s":"Min eff. mass direction","o":0,"x":0,"y":0},{"s":"Min eff. mass direction","o":1,"x":0,"y":0.0125}
]},
"mark": {"type": "line", "strokeDash": [5.5, 2.4], "strokeWidth": 1.5},
"encoding": {
 "x": {"field": "x", "type": "quantitative", "scale": {"domain": [-0.02, 0.02], "nice": false, "zero": false}},
 "y": {"field": "y", "type": "quantitative", "scale": {"domain": [-0.0182, 0.0182], "nice": false, "zero": false}},
 "order": {"field": "o", "type": "quantitative"},
 "stroke": {"field": "s", "type": "nominal",
  "scale": {"domain": ["Max eff. mass direction", "Min eff. mass direction"], "range": ["#2ca02c", "#ff7f0e"]},
  "legend": {"orient": "top-right", "title": null, "offset": 5, "symbolType": "stroke", "symbolStrokeWidth": 1.5, "symbolDash": [5.5, 2.4], "symbolSize": 440, "fillColor": "rgba(255,255,255,0.8)", "strokeColor": "#cccccc", "cornerRadius": 3, "padding": 5, "rowPadding": 0, "labelOffset": 8, "labelFontSize": 13.9, "labelLimit": 300}}
}
}
]
}
